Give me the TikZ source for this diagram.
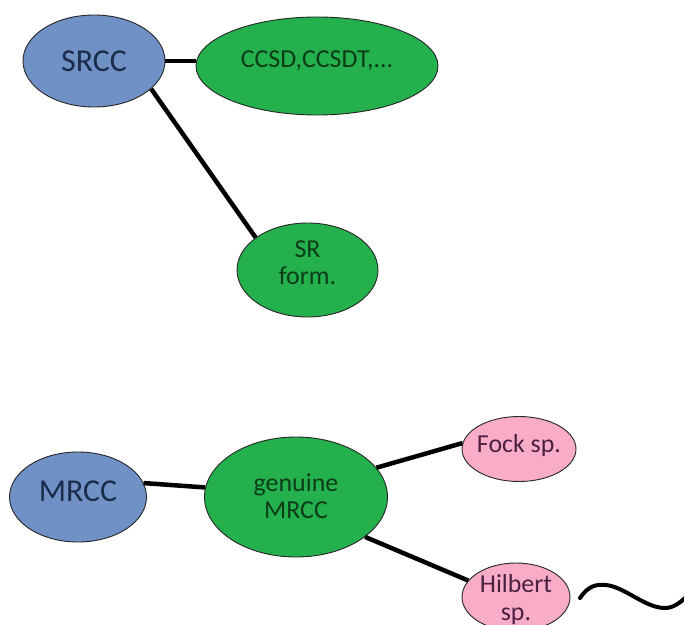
\documentclass[tikz,border=0pt]{standalone}
\usepackage{fontspec}
\setmainfont{Carlito}
\usetikzlibrary{shapes.geometric}
\definecolor{bluefill}{RGB}{111,145,198}
\definecolor{greenfill}{RGB}{36,176,76}
\definecolor{pinkfill}{RGB}{248,172,200}
\definecolor{bluetext}{RGB}{26,44,74}
\definecolor{greentext}{RGB}{12,60,24}
\definecolor{pinktext}{RGB}{75,32,64}
\begin{document}
\begin{tikzpicture}[x=1bp,y=-1bp,
  oval/.style={ellipse, draw=black!85, line width=0.9bp, inner sep=0pt},
  bluenode/.style={oval, fill=bluefill},
  greennode/.style={oval, fill=greenfill},
  pinknode/.style={oval, fill=pinkfill},
  link/.style={line width=4.5bp, draw=black},
  bigtxt/.style={font=\fontsize{32}{36}\selectfont, text=bluetext},
  gtxt/.style={font=\fontsize{26}{27}\selectfont, align=center, text=greentext},
  ptxt/.style={font=\fontsize{26}{28}\selectfont, align=center, text=pinktext}
]
\useasboundingbox (0,0) rectangle (684,625);
\fill[white] (0,0) rectangle (684,625);

% top group
\node[bluenode, minimum width=142bp, minimum height=92bp,
      label={[bigtxt]center:SRCC}] (srcc) at (94,61) {};
\node[greennode, minimum width=242bp, minimum height=98bp,
      label={[gtxt, yshift=5bp]center:CCSD,CCSDT,...}] (ccsd) at (317,66) {};
\node[greennode, minimum width=141bp, minimum height=94bp,
      label={[gtxt, yshift=7bp]center:SR\\form.}] (srform) at (307.5,270) {};

% bottom group
\node[bluenode, minimum width=137bp, minimum height=90bp,
      label={[bigtxt, yshift=6bp]center:MRCC}] (mrcc) at (78,497) {};
\node[greennode, minimum width=183bp, minimum height=120bp,
      label={[gtxt, yshift=1bp]center:genuine\\MRCC}] (gen) at (296,497) {};
\node[pinknode, minimum width=114bp, minimum height=65bp,
      label={[ptxt, yshift=3bp]center:Fock sp.}] (fock) at (519,449) {};
\node[pinknode, minimum width=108bp, minimum height=68bp,
      label={[ptxt, yshift=-3bp]center:Hilbert\\sp.}] (hilbert) at (516,597) {};

% connectors
\draw[link] (srcc.east) -- (ccsd.west |- srcc.east);
\draw[link] (srcc.-26.6) -- (srform.148.4);
\draw[link] (mrcc.12) -- (gen.174);
\draw[link] (gen.20) -- (fock.174);
\draw[link] (gen.-30) -- (hilbert.161);

% wavy line
\coordinate (wavestart) at (580,598);
\coordinate (waveend) at (687,596);
\draw[link, line width=4bp, line cap=round] (wavestart)
  .. controls (588,586) and (596,584) .. (606,585)
  .. controls (625,587) and (645,608) .. (665,608)
  .. controls (673,608) and (680,603) .. (waveend);
\end{tikzpicture}
\end{document}
